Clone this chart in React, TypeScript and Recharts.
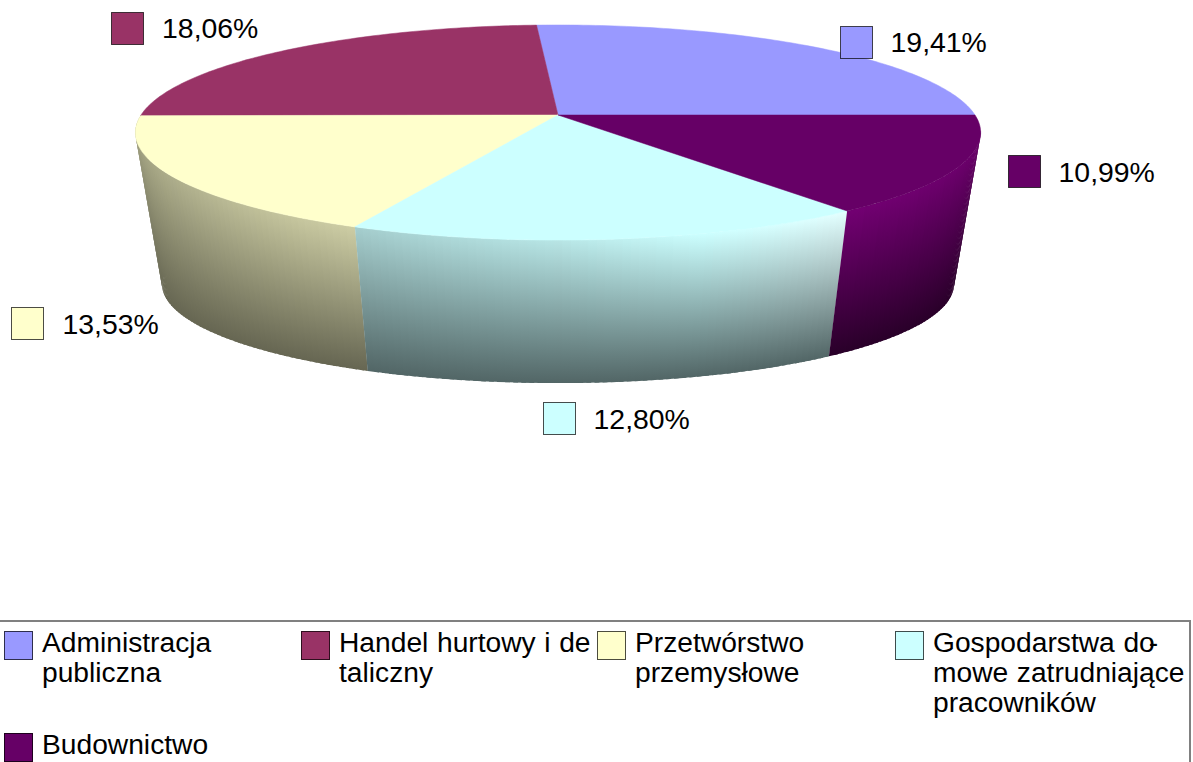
import { Legend, Pie, PieChart } from "recharts"

const categories = [
  "Administracja publiczna",
  "Handel hurtowy i detaliczny",
  "Przetwórstwo przemysłowe",
  "Gospodarstwa domowe zatrudniające pracowników",
  "Budownictwo",
]
const shares = [19.41, 18.06, 13.53, 12.8, 10.99]
const colors = ["#9999ff", "#993366", "#ffffcc", "#ccffff", "#660066"]

// where the broken legend lines fall, as in the original
const legendLines = [
  ["Administracja", "publiczna"],
  ["Handel hurtowy i de", "taliczny"],
  ["Przetwórstwo", "przemysłowe"],
  ["Gospodarstwa do", "mowe zatrudniające", "pracowników"],
  ["Budownictwo"],
]

const rows = categories.map((name, i) => ({ name, value: shares[i], fill: colors[i] }))

const FONT = '"Liberation Sans", Arial, sans-serif'
const CX = 558
const CY = 115
const RADIUS = 417

// perspective tilt of the disc
const TILT = 104.7
const DEPTH = 0.163
const BOTTOM_CY = 268
const BOTTOM_SCALE_X = 0.937
const BOTTOM_SCALE_Y = 0.92
// past this angle the wall turns behind the disc
const WALL_END = 352

const labelOffsets = [
  { dx: 26, dy: -21 },
  { dx: -173, dy: -39 },
  { dx: -162.5, dy: 130 },
  { dx: -70, dy: 163 },
  { dx: 47, dy: -10 },
]
const legendSlots = [
  { x: 4, y: 631 },
  { x: 301, y: 631 },
  { x: 597, y: 631 },
  { x: 895, y: 631 },
  { x: 4, y: 733 },
]

function project(angle: number) {
  const rad = (angle * Math.PI) / 180
  const X = Math.cos(rad)
  const Y = Math.sin(rad)
  const s = 1 / (1 + DEPTH * Y)
  return { x: RADIUS * X * s, y: -TILT * Y * s }
}

function shade(hex: string, f: number) {
  const n = parseInt(hex.slice(1), 16)
  const ch = [(n >> 16) & 255, (n >> 8) & 255, n & 255].map((c) => Math.round(Math.min(255, c * f)))
  return `rgb(${ch[0]},${ch[1]},${ch[2]})`
}

// brightness of the wall's upper edge, brightest a bit right of the front
function topLight(angle: number) {
  const a = Math.max(180, Math.min(360, angle))
  if (a < 270) return 0.56 + ((a - 180) / 90) * 0.34
  if (a < 307) return 0.9 + ((a - 270) / 37) * 0.22
  return 1.12 - ((a - 307) / 53) * 0.14
}

function DiscSlice(props: any) {
  const { startAngle, endAngle, fill } = props
  const top = []
  for (let a = startAngle; a < endAngle; a += 1) top.push(project(a))
  top.push(project(endAngle))
  const topPath =
    `M${CX},${CY} ` + top.map((p) => `L${CX + p.x},${CY + p.y}`).join(" ") + " Z"

  const strips = []
  const from = Math.max(startAngle, 180)
  const to = Math.min(endAngle, WALL_END)
  for (let a = from; a < to; a += 1) {
    const b = Math.min(a + 1, to)
    const bleed = Math.min(b + 0.6, to)
    const p = project(a)
    const q = project(bleed)
    const mid = project((a + b) / 2)
    const id = `wall-${Math.round(a * 10)}`
    const y1 = CY + mid.y
    const y2 = BOTTOM_CY + mid.y * BOTTOM_SCALE_Y
    strips.push(
      <g key={a}>
        <defs>
          <linearGradient id={id} gradientUnits="userSpaceOnUse" x1="0" x2="0" y1={y1} y2={y2}>
            <stop offset="0" stopColor={shade(fill, topLight((a + b) / 2))} />
            <stop offset="1" stopColor={shade(fill, 0.4)} />
          </linearGradient>
        </defs>
        <polygon
          fill={`url(#${id})`}
          points={[
            `${CX + p.x},${CY + p.y}`,
            `${CX + q.x},${CY + q.y}`,
            `${CX + q.x * BOTTOM_SCALE_X},${BOTTOM_CY + q.y * BOTTOM_SCALE_Y}`,
            `${CX + p.x * BOTTOM_SCALE_X},${BOTTOM_CY + p.y * BOTTOM_SCALE_Y}`,
          ].join(" ")}
        />
      </g>
    )
  }

  return (
    <g>
      {strips}
      <path d={topPath} fill={fill} stroke={fill} strokeWidth={0.5} />
    </g>
  )
}

function renderLabel(props: any) {
  const { midAngle, index, value } = props
  const p = project(midAngle)
  const x = CX + p.x + labelOffsets[index].dx
  const y = CY + p.y + labelOffsets[index].dy
  return (
    <g key={index}>
      <rect x={Math.round(x) + 0.5} y={Math.round(y) + 0.5} width={32} height={32} fill={colors[index]} stroke="#000" strokeOpacity={0.7} />
      <text x={x + 51} y={y + 26.5} fontFamily={FONT} fontSize={28.4} fill="#000">
        {value.toFixed(2).replace(".", ",") + "%"}
      </text>
    </g>
  )
}

function ChartLegend() {
  return (
    <div style={{ position: "relative", width: 1189, height: 142, borderTop: "2px solid #808080", borderRight: "2px solid #808080", fontFamily: FONT, fontSize: 28.2, lineHeight: "30px", wordSpacing: 0.8, color: "#000" }}>
      {categories.map((name, i) => (
        <div key={name} style={{ position: "absolute", left: legendSlots[i].x + 38, top: legendSlots[i].y - 622 - 4, whiteSpace: "nowrap" }}>
          {legendLines[i].map((line, j) => (
            <div key={line}>
              {line}
              {i === 3 && j === 0 ? <span style={{ marginLeft: -6 }}>-</span> : null}
            </div>
          ))}
        </div>
      ))}
      {categories.map((name, i) => (
        <div
          key={name + "-key"}
          style={{
            position: "absolute",
            left: legendSlots[i].x,
            top: legendSlots[i].y - 622,
            width: 27,
            height: 27,
            background: colors[i],
            border: "1px solid rgba(0,0,0,0.7)",
          }}
        />
      ))}
    </div>
  )
}

export default function App() {
  return (
    <div style={{ position: "absolute", left: 0, top: 0, width: 1193, height: 762, overflow: "hidden", background: "#fff" }}>
      <PieChart width={1193} height={762} margin={{ top: 0, right: 0, bottom: 0, left: 0 }}>
        <Pie
          data={rows}
          dataKey="value"
          nameKey="name"
          cx={CX}
          cy={CY}
          outerRadius={RADIUS}
          startAngle={0}
          endAngle={360}
          stroke="none"
          shape={DiscSlice}
          label={renderLabel}
          labelLine={false}
          isAnimationActive={false}
        />
        <Legend
          content={<ChartLegend />}
          wrapperStyle={{ left: 0, top: 620, bottom: "auto", width: 1193, height: 142 }}
        />
      </PieChart>
    </div>
  )
}
